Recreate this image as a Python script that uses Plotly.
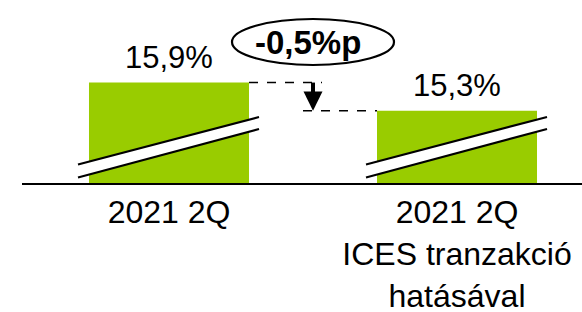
import plotly.graph_objects as go

# ---- data ----
CATEGORIES = ["2021 2Q", "2021 2Q<br>ICES tranzakció<br>hatásával"]
VALUES = [15.9, 15.3]
VALUE_LABELS = ["15,9%", "15,3%"]
CHANGE_LABEL = "-0,5%p"

# ---- layout constants ----
GREEN = "#99CC00"
FONT = "Liberation Sans, Arial, sans-serif"
W, H = 582, 312
ML, MR, MT, MB = 22, 0, 0, 129
PLOT_W = W - ML - MR
PLOT_H = H - MT - MB
Y_MIN, Y_MAX = 13.76, 17.66
X_MIN, X_MAX = -0.5104, 1.434
BAR_W = 0.5556
PX_PER_Y = PLOT_H / (Y_MAX - Y_MIN)
PX_PER_X = PLOT_W / (X_MAX - X_MIN)


def dy(px):
    return px / PX_PER_Y


def dx(px):
    return px / PX_PER_X


xs = list(range(len(VALUES)))

fig = go.Figure()
fig.add_trace(go.Bar(x=xs, y=VALUES, width=BAR_W, marker_color=GREEN,
                     marker_line_width=0, hoverinfo="skip"))

shapes = []
annotations = []

# broken-axis marks on each bar
for i in xs:
    xl = i - BAR_W / 2 - dx(11)
    xr = i + BAR_W / 2 + dx(10)
    low_l, low_r = Y_MIN + dy(5.5), Y_MIN + dy(54)
    up_l, up_r = Y_MIN + dy(18.5), Y_MIN + dy(66)
    shapes.append(dict(type="path", xref="x", yref="y",
                       path=f"M {xl},{low_l} L {xr},{low_r} L {xr},{up_r} L {xl},{up_l} Z",
                       fillcolor="white", line=dict(width=0)))
    for (a, b) in [(low_l, low_r), (up_l, up_r)]:
        shapes.append(dict(type="line", xref="x", yref="y", x0=xl, x1=xr, y0=a, y1=b,
                           line=dict(color="black", width=2.2)))

# value labels
for i in xs:
    annotations.append(dict(x=i, y=VALUES[i], xref="x", yref="y", text=VALUE_LABELS[i],
                            showarrow=False, yanchor="middle", yshift=25,
                            font=dict(family=FONT, size=31, color="black")))

# dashed connectors
mid = (xs[0] + xs[1]) / 2
shapes.append(dict(type="line", xref="x", yref="y", x0=xs[0] + BAR_W / 2, x1=mid + dx(9),
                   y0=VALUES[0], y1=VALUES[0], line=dict(color="black", width=1.5, dash="dash")))
shapes.append(dict(type="line", xref="x", yref="y", x0=mid - dx(10), x1=xs[1] - BAR_W / 2,
                   y0=VALUES[1], y1=VALUES[1], line=dict(color="black", width=1.5, dash="dash")))

# arrow
shapes.append(dict(type="line", xref="x", yref="y", x0=mid, x1=mid,
                   y0=VALUES[0], y1=VALUES[0] - dy(11), line=dict(color="black", width=4)))
head_top = VALUES[0] - dy(9)
shapes.append(dict(type="path", xref="x", yref="y",
                   path=f"M {mid - dx(9.5)},{head_top} L {mid + dx(9.5)},{head_top} L {mid},{VALUES[1]} Z",
                   fillcolor="black", line=dict(width=0)))

# ellipse with change label
shapes.append(dict(type="circle", xref="x", yref="y",
                   x0=mid - dx(81), x1=mid + dx(81),
                   y0=Y_MIN + dy(PLOT_H - 65), y1=Y_MIN + dy(PLOT_H - 19),
                   line=dict(color="black", width=2.2)))
annotations.append(dict(x=mid - dx(5), y=Y_MIN + dy(PLOT_H - 42), xref="x", yref="y",
                        text=f"<b>{CHANGE_LABEL}</b>", showarrow=False,
                        font=dict(family=FONT, size=33, color="black")))

fig.update_layout(
    width=W, height=H,
    margin=dict(l=ML, r=MR, t=MT, b=MB, autoexpand=False),
    paper_bgcolor="white", plot_bgcolor="white",
    showlegend=False,
    shapes=shapes, annotations=annotations,
    font=dict(family=FONT, size=32, color="black"),
)
fig.update_xaxes(range=[X_MIN, X_MAX], tickvals=xs, ticktext=CATEGORIES,
                 showline=True, linecolor="black", linewidth=2, ticks="",
                 showgrid=False, zeroline=False, automargin=False,
                 tickfont=dict(family=FONT, size=32, color="black"))
fig.update_yaxes(range=[Y_MIN, Y_MAX], visible=False, showgrid=False, zeroline=False,
                 automargin=False)

fig.write_html("out.html", config={"displayModeBar": False},
               post_script="document.body.style.margin='0';document.body.style.overflow='hidden';")
